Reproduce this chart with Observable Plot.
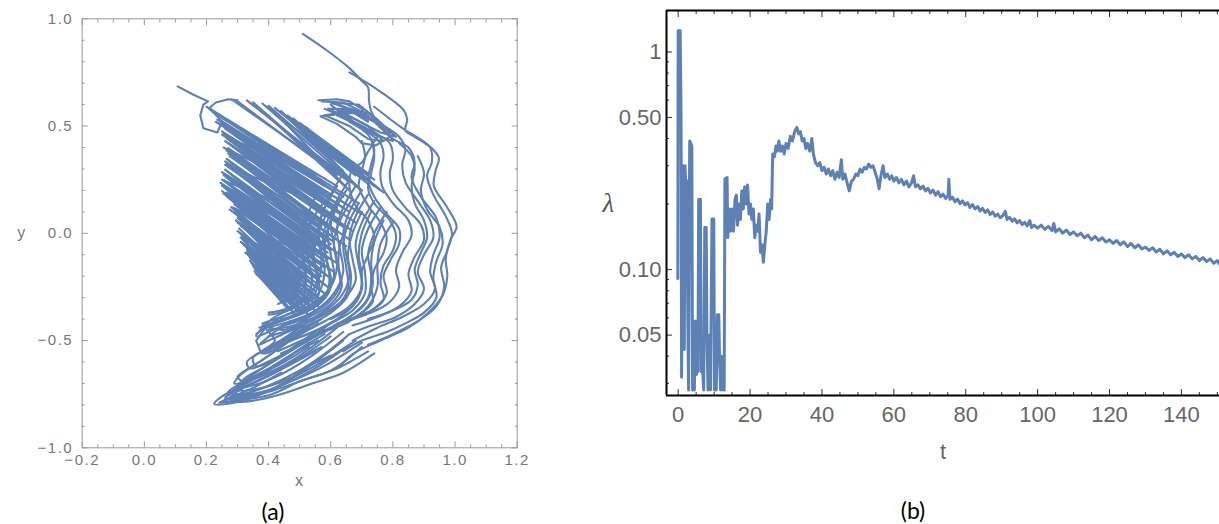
<!DOCTYPE html>
<html><head><meta charset="utf-8">
<script src="https://cdn.jsdelivr.net/npm/d3@7"></script>
<script src="https://cdn.jsdelivr.net/npm/@observablehq/plot@0.6"></script>
<style>
body{margin:0;background:#fff;width:1219px;height:524px;overflow:hidden;position:relative}
#a{position:absolute;left:0;top:0}
#b{position:absolute;left:580px;top:0}
#a text{letter-spacing:1.5px}
.cap{position:absolute;font-family:Lato,"Open Sans",sans-serif;font-size:23px;color:#000;transform:translateX(-50%);line-height:1}
</style></head><body>
<div id="a"></div><div id="b"></div>
<div class="cap" style="left:273px;top:500px">(a)</div>
<div class="cap" style="left:913px;top:499px">(b)</div>
<script>
// ---------- panel (a): phase portrait (x, y) ----------
const tailLoop = [[0.107,0.685],[0.16,0.645],[0.205,0.615],[0.19,0.60],[0.18,0.55],[0.19,0.49],[0.235,0.47],[0.25,0.52],[0.21,0.585],[0.23,0.61],[0.27,0.625],[0.3,0.62]];
const crownZigzag = [[0.56,0.62],[0.62,0.625],[0.66,0.615],[0.70,0.58],[0.72,0.52],[0.67,0.565],[0.567,0.545],[0.62,0.51],[0.68,0.45],[0.70,0.42],[0.745,0.41],[0.79,0.45],[0.74,0.52],[0.64,0.59],[0.60,0.61],[0.69,0.60],[0.75,0.53],[0.81,0.45],[0.76,0.47],[0.68,0.53],[0.59,0.58],[0.66,0.58],[0.72,0.56],[0.78,0.49],[0.8,0.43],[0.74,0.46],[0.65,0.54],[0.6,0.6]];
const crownZigzag2 = [[0.57,0.615],[0.64,0.61],[0.71,0.56],[0.62,0.56],[0.58,0.55],[0.66,0.5],[0.72,0.44],[0.77,0.43],[0.72,0.5],[0.63,0.57],[0.7,0.57],[0.76,0.5],[0.79,0.47]];
const fanZigzag = [[0.20,0.59],[0.62,0.22],[0.22,0.565],[0.69,0.14],[0.245,0.545],[0.64,0.17],[0.23,0.52],[0.70,0.09],[0.255,0.50],[0.66,0.10],[0.25,0.475],[0.68,0.05],[0.27,0.455],[0.63,0.09],[0.26,0.43],[0.67,0.01],[0.28,0.41],[0.64,0.03],[0.265,0.385],[0.66,-0.03],[0.275,0.36],[0.62,0.0],[0.26,0.335],[0.65,-0.06],[0.27,0.31],[0.61,-0.04],[0.25,0.285],[0.63,-0.10],[0.265,0.26],[0.60,-0.08],[0.245,0.235],[0.62,-0.14],[0.26,0.21],[0.59,-0.12],[0.255,0.185],[0.61,-0.18],[0.28,0.16],[0.58,-0.16],[0.29,0.135],[0.60,-0.21],[0.275,0.11],[0.57,-0.20],[0.30,0.085],[0.59,-0.25],[0.295,0.06],[0.56,-0.24],[0.31,0.035],[0.58,-0.28],[0.30,0.01],[0.55,-0.27],[0.315,-0.015],[0.57,-0.31],[0.31,-0.04],[0.54,-0.30],[0.33,-0.065],[0.56,-0.34],[0.325,-0.09],[0.53,-0.33],[0.34,-0.115],[0.55,-0.36],[0.345,-0.14],[0.52,-0.35],[0.355,-0.165],[0.53,-0.38],[0.36,-0.19],[0.50,-0.37]];
const fanZigzag2 = [[0.21,0.578],[0.55,0.27],[0.235,0.555],[0.58,0.22],[0.24,0.532],[0.60,0.17],[0.25,0.51],[0.57,0.19],[0.26,0.488],[0.62,0.12],[0.255,0.465],[0.59,0.13],[0.265,0.442],[0.63,0.06],[0.27,0.42],[0.58,0.08],[0.27,0.397],[0.62,0.0],[0.27,0.372],[0.57,0.03],[0.265,0.347],[0.60,-0.05],[0.265,0.322],[0.56,-0.02],[0.26,0.297],[0.59,-0.09],[0.255,0.272],[0.55,-0.06],[0.255,0.247],[0.58,-0.13],[0.25,0.222],[0.54,-0.10],[0.25,0.197],[0.57,-0.17],[0.265,0.172],[0.53,-0.14],[0.285,0.148],[0.56,-0.21],[0.28,0.122],[0.52,-0.18],[0.29,0.097],[0.55,-0.25],[0.30,0.072],[0.51,-0.22],[0.305,0.047],[0.54,-0.29],[0.305,0.022],[0.50,-0.25],[0.31,-0.003],[0.53,-0.32],[0.315,-0.028],[0.49,-0.28],[0.32,-0.053],[0.52,-0.35],[0.33,-0.078],[0.48,-0.31],[0.335,-0.103],[0.50,-0.36],[0.34,-0.128],[0.47,-0.33],[0.35,-0.153],[0.48,-0.37],[0.355,-0.178],[0.46,-0.35]];
const fanTop = [[0.28,0.625],[0.66,0.24],[0.33,0.62],[0.70,0.20],[0.38,0.605],[0.68,0.27],[0.42,0.585],[0.72,0.23],[0.46,0.55],[0.70,0.30],[0.50,0.515],[0.74,0.22],[0.54,0.47],[0.72,0.28],[0.58,0.42],[0.75,0.21],[0.62,0.37],[0.76,0.20]];
const fanTop2 = [[0.30,0.615],[0.62,0.27],[0.35,0.61],[0.66,0.20],[0.40,0.595],[0.64,0.29],[0.44,0.57],[0.69,0.21],[0.48,0.535],[0.67,0.29],[0.52,0.495],[0.71,0.25],[0.56,0.445],[0.73,0.24],[0.60,0.395],[0.74,0.25],[0.64,0.345],[0.77,0.19]];
const fanShort = [[0.235,0.53],[0.45,0.33],[0.25,0.46],[0.46,0.26],[0.255,0.40],[0.47,0.19],[0.26,0.32],[0.47,0.12],[0.25,0.25],[0.46,0.05],[0.265,0.19],[0.47,-0.01],[0.285,0.12],[0.48,-0.07],[0.30,0.05],[0.48,-0.12],[0.31,-0.02],[0.49,-0.18],[0.33,-0.09],[0.49,-0.23],[0.35,-0.15],[0.48,-0.27]];
const stubs = [[[0.406,-0.204],[0.44,-0.24],[0.47,-0.17]],[[0.39,-0.44],[0.36,-0.5],[0.375,-0.555]]];
const rightBundle = [
  [[0.66,0.75],[0.75,0.67],[0.835,0.573],[0.846,0.53],[0.84,0.48],[0.87,0.45],[0.93,0.39],[0.948,0.35],[0.937,0.29],[0.932,0.22],[0.975,0.12],[1.005,0.03],[0.985,-0.03],[0.97,-0.12],[0.975,-0.2],[0.96,-0.29],[0.91,-0.375],[0.85,-0.44],[0.76,-0.50],[0.674,-0.56],[0.63,-0.62]],
  [[0.74,0.59],[0.83,0.49],[0.92,0.40],[0.925,0.33],[0.91,0.27],[0.93,0.18],[0.97,0.08],[0.99,0.0],[0.975,-0.08],[0.955,-0.16],[0.965,-0.25],[0.94,-0.34],[0.88,-0.41],[0.8,-0.47],[0.72,-0.52]],
  [[0.51,0.93],[0.59,0.85],[0.66,0.77],[0.70,0.71],[0.72,0.68],[0.723,0.62],[0.73,0.57],[0.76,0.50],[0.80,0.44],[0.85,0.40],[0.87,0.33],[0.86,0.26],[0.89,0.17],[0.94,0.07],[0.95,-0.02],[0.93,-0.1],[0.92,-0.18],[0.935,-0.26],[0.9,-0.33],[0.83,-0.39],[0.75,-0.44],[0.67,-0.5]],
  [[0.6,0.61],[0.68,0.57],[0.76,0.51],[0.82,0.45],[0.84,0.39],[0.83,0.32],[0.84,0.24],[0.88,0.15],[0.92,0.06],[0.93,-0.02],[0.9,-0.1],[0.88,-0.18],[0.9,-0.26],[0.87,-0.33],[0.81,-0.39],[0.73,-0.43],[0.66,-0.47]],
  [[0.58,0.58],[0.66,0.53],[0.74,0.47],[0.79,0.42],[0.8,0.35],[0.79,0.28],[0.8,0.2],[0.84,0.12],[0.89,0.04],[0.9,-0.03],[0.87,-0.11],[0.85,-0.19],[0.86,-0.27],[0.82,-0.34],[0.75,-0.39],[0.67,-0.43]],
  [[0.62,0.55],[0.7,0.49],[0.76,0.42],[0.77,0.36],[0.76,0.29],[0.765,0.22],[0.8,0.14],[0.85,0.06],[0.86,-0.01],[0.83,-0.09],[0.81,-0.17],[0.82,-0.25],[0.79,-0.32],[0.73,-0.37],[0.65,-0.41]],
  [[0.66,0.52],[0.72,0.46],[0.74,0.39],[0.73,0.32],[0.72,0.25],[0.74,0.17],[0.78,0.09],[0.82,0.02],[0.82,-0.05],[0.79,-0.13],[0.77,-0.2],[0.78,-0.28],[0.74,-0.35],[0.68,-0.39],[0.61,-0.43]],
  [[0.7,0.43],[0.71,0.36],[0.7,0.29],[0.69,0.22],[0.72,0.13],[0.76,0.05],[0.78,-0.02],[0.77,-0.09],[0.74,-0.17],[0.73,-0.25],[0.735,-0.32],[0.69,-0.38],[0.62,-0.42]],
  [[0.73,0.44],[0.74,0.36],[0.73,0.28],[0.72,0.21],[0.74,0.14],[0.79,0.06],[0.81,-0.01],[0.8,-0.08],[0.77,-0.15],[0.76,-0.23],[0.77,-0.31],[0.72,-0.37],[0.64,-0.41]],
  [[0.75,0.45],[0.72,0.38],[0.7,0.33],[0.67,0.3],[0.66,0.22],[0.68,0.13],[0.72,0.06],[0.74,-0.02],[0.72,-0.1],[0.7,-0.18],[0.7,-0.26],[0.67,-0.34],[0.6,-0.4]],
  [[0.88,0.36],[0.9,0.28],[0.89,0.2],[0.91,0.11],[0.95,0.03],[0.96,-0.05],[0.94,-0.13],[0.93,-0.21],[0.94,-0.3],[0.9,-0.37],[0.84,-0.42],[0.78,-0.46],[0.7,-0.5],[0.64,-0.55]],
  [[0.82,0.42],[0.86,0.36],[0.87,0.3],[0.86,0.22],[0.87,0.14],[0.9,0.06],[0.91,-0.02],[0.89,-0.09],[0.87,-0.17],[0.88,-0.24],[0.86,-0.31],[0.8,-0.36],[0.72,-0.4]]
];
const middleColumn = [
  [[0.7,0.2],[0.66,0.1],[0.64,0.0],[0.65,-0.1],[0.66,-0.2],[0.63,-0.3],[0.56,-0.38],[0.48,-0.43],[0.4,-0.45]],
  [[0.66,0.25],[0.62,0.15],[0.6,0.05],[0.61,-0.05],[0.62,-0.15],[0.6,-0.25],[0.54,-0.33],[0.46,-0.38],[0.38,-0.42]],
  [[0.62,0.22],[0.58,0.12],[0.56,0.02],[0.57,-0.08],[0.58,-0.18],[0.56,-0.28],[0.5,-0.35],[0.43,-0.4],[0.36,-0.47]],
  [[0.74,0.15],[0.7,0.05],[0.68,-0.05],[0.69,-0.15],[0.7,-0.25],[0.66,-0.34],[0.58,-0.41],[0.5,-0.47],[0.42,-0.52]],
  [[0.78,0.1],[0.74,0.0],[0.72,-0.1],[0.73,-0.2],[0.72,-0.3],[0.67,-0.38],[0.6,-0.44],[0.52,-0.5]],
  [[0.58,0.15],[0.54,0.06],[0.52,-0.04],[0.53,-0.14],[0.54,-0.22],[0.52,-0.3],[0.46,-0.36],[0.4,-0.38]],
  [[0.52,0.1],[0.5,0.0],[0.49,-0.1],[0.5,-0.2],[0.48,-0.28],[0.43,-0.33]],
  [[0.68,0.22],[0.64,0.12],[0.62,0.02],[0.63,-0.08],[0.64,-0.18],[0.61,-0.28],[0.55,-0.36],[0.47,-0.41],[0.39,-0.44]],
  [[0.72,0.18],[0.68,0.08],[0.66,-0.02],[0.67,-0.12],[0.68,-0.22],[0.64,-0.31],[0.57,-0.38],[0.49,-0.44]],
  [[0.6,0.05],[0.58,-0.05],[0.59,-0.15],[0.6,-0.25],[0.57,-0.32],[0.5,-0.38],[0.44,-0.4]],
  [[0.64,0.28],[0.6,0.18],[0.57,0.08],[0.56,-0.02],[0.57,-0.12],[0.56,-0.22],[0.52,-0.3],[0.46,-0.35]],
  [[0.56,0.2],[0.53,0.1],[0.51,0.0],[0.51,-0.1],[0.52,-0.2],[0.5,-0.28],[0.45,-0.32]],
  [[0.76,0.12],[0.72,0.02],[0.7,-0.08],[0.71,-0.18],[0.71,-0.28],[0.67,-0.36],[0.6,-0.42],[0.53,-0.47],[0.46,-0.5]],
  [[0.7,0.1],[0.67,0.0],[0.655,-0.1],[0.665,-0.2],[0.655,-0.29],[0.61,-0.36],[0.54,-0.42],[0.46,-0.46]],
  [[0.66,0.05],[0.63,-0.05],[0.625,-0.15],[0.635,-0.25],[0.6,-0.33],[0.53,-0.39],[0.45,-0.43]],
  [[0.62,0.12],[0.59,0.02],[0.58,-0.08],[0.595,-0.18],[0.59,-0.27],[0.55,-0.34],[0.48,-0.38]],
  [[0.55,0.0],[0.54,-0.1],[0.555,-0.2],[0.55,-0.28],[0.5,-0.33],[0.44,-0.36]],
  [[0.8,0.05],[0.76,-0.05],[0.75,-0.15],[0.75,-0.25],[0.72,-0.34],[0.66,-0.41],[0.58,-0.46],[0.5,-0.52],[0.44,-0.56]],
  [[0.65,0.2],[0.61,0.1],[0.59,0.0],[0.6,-0.1],[0.61,-0.2],[0.58,-0.29],[0.52,-0.36],[0.44,-0.41],[0.37,-0.44]],
  [[0.69,0.14],[0.655,0.04],[0.64,-0.06],[0.65,-0.16],[0.655,-0.26],[0.62,-0.34],[0.55,-0.4],[0.47,-0.45],[0.4,-0.48]],
  [[0.73,0.1],[0.7,0.0],[0.69,-0.1],[0.7,-0.2],[0.69,-0.3],[0.64,-0.38],[0.57,-0.44],[0.49,-0.49],[0.42,-0.53]],
  [[0.59,0.1],[0.56,0.0],[0.545,-0.1],[0.56,-0.2],[0.56,-0.29],[0.52,-0.35],[0.45,-0.4],[0.38,-0.43]],
  [[0.54,0.08],[0.52,-0.02],[0.51,-0.12],[0.52,-0.22],[0.51,-0.3],[0.46,-0.35],[0.4,-0.37]],
  [[0.77,0.06],[0.74,-0.04],[0.73,-0.14],[0.735,-0.24],[0.71,-0.33],[0.65,-0.4],[0.57,-0.46],[0.49,-0.51],[0.43,-0.55]],
  [[0.67,0.16],[0.63,0.06],[0.61,-0.04],[0.62,-0.14],[0.63,-0.24],[0.595,-0.32],[0.53,-0.38],[0.46,-0.42]],
  [[0.63,0.18],[0.595,0.08],[0.575,-0.02],[0.585,-0.12],[0.6,-0.22],[0.575,-0.3],[0.51,-0.37],[0.44,-0.41]]
];
const lowerLoops = [
  [[0.66,-0.47],[0.55,-0.6],[0.45,-0.7],[0.36,-0.76],[0.27,-0.795],[0.225,-0.795],[0.25,-0.76],[0.33,-0.7],[0.42,-0.62],[0.5,-0.54],[0.58,-0.47]],
  [[0.64,-0.5],[0.53,-0.62],[0.42,-0.72],[0.32,-0.77],[0.26,-0.78],[0.28,-0.74],[0.36,-0.67],[0.45,-0.59],[0.53,-0.51]],
  [[0.62,-0.52],[0.5,-0.64],[0.40,-0.71],[0.31,-0.75],[0.27,-0.74],[0.31,-0.7],[0.4,-0.63],[0.48,-0.56],[0.56,-0.5]],
  [[0.68,-0.5],[0.57,-0.6],[0.48,-0.67],[0.38,-0.72],[0.3,-0.73],[0.33,-0.68],[0.41,-0.6],[0.49,-0.52],[0.55,-0.46]],
  [[0.6,-0.48],[0.5,-0.58],[0.4,-0.65],[0.32,-0.69],[0.3,-0.67],[0.37,-0.6],[0.44,-0.53],[0.5,-0.46]],
  [[0.7,-0.53],[0.6,-0.64],[0.5,-0.69],[0.41,-0.75],[0.3,-0.78],[0.24,-0.79],[0.27,-0.77],[0.35,-0.72],[0.44,-0.65]],
  [[0.56,-0.42],[0.47,-0.5],[0.39,-0.56],[0.375,-0.555],[0.42,-0.5],[0.39,-0.44],[0.45,-0.45],[0.52,-0.4]],
  [[0.48,-0.35],[0.41,-0.4],[0.36,-0.48],[0.4,-0.46],[0.46,-0.42]],
  [[0.62,-0.44],[0.52,-0.55],[0.43,-0.63],[0.35,-0.68],[0.29,-0.7],[0.31,-0.66],[0.38,-0.59],[0.46,-0.51],[0.53,-0.44]],
  [[0.72,-0.55],[0.62,-0.63],[0.52,-0.68],[0.42,-0.73],[0.33,-0.76],[0.28,-0.76],[0.32,-0.72],[0.4,-0.66],[0.48,-0.6],[0.57,-0.53]],
  [[0.58,-0.45],[0.49,-0.53],[0.41,-0.59],[0.34,-0.63],[0.33,-0.6],[0.39,-0.54],[0.46,-0.48],[0.52,-0.42]],
  [[0.66,-0.52],[0.56,-0.62],[0.47,-0.69],[0.39,-0.74],[0.31,-0.77],[0.26,-0.765],[0.3,-0.73],[0.38,-0.68],[0.46,-0.62],[0.55,-0.55]],
  [[0.54,-0.38],[0.46,-0.46],[0.4,-0.5],[0.37,-0.52],[0.41,-0.47],[0.47,-0.41]],
  [[0.64,-0.46],[0.54,-0.57],[0.45,-0.65],[0.37,-0.7],[0.3,-0.72],[0.32,-0.68],[0.39,-0.62],[0.47,-0.55],[0.55,-0.48]],
  [[0.7,-0.51],[0.59,-0.61],[0.49,-0.68],[0.4,-0.73],[0.32,-0.755],[0.27,-0.755],[0.3,-0.72],[0.37,-0.66],[0.45,-0.6],[0.53,-0.53]],
  [[0.6,-0.42],[0.51,-0.51],[0.43,-0.58],[0.36,-0.62],[0.35,-0.58],[0.41,-0.53],[0.48,-0.47],[0.55,-0.41]],
  [[0.74,-0.56],[0.64,-0.65],[0.54,-0.7],[0.44,-0.75],[0.35,-0.78],[0.29,-0.785],[0.33,-0.75],[0.42,-0.7],[0.5,-0.64],[0.6,-0.57]],
  [[0.57,-0.4],[0.49,-0.47],[0.42,-0.53],[0.38,-0.56],[0.42,-0.52],[0.49,-0.45]]
];
const xTicksA = [-0.2,0,0.2,0.4,0.6,0.8,1.0,1.2];
const yTicksA = [-1,-0.5,0,0.5,1];

// ---------- panel (b): lambda(t) ----------
const lamT = [-0.1,0.0,0.55,0.65,0.8,0.95,1.15,1.3,1.5,1.7,1.9,2.05,2.4,2.6,2.75,2.9,3.2,3.8,4.0,4.2,4.5,4.8,5.1,5.3,5.5,5.7,6.2,6.4,6.8,7.1,7.4,7.8,8.0,8.3,8.7,9.0,9.4,9.9,10.1,10.6,10.9,11.3,11.5,11.8,12.1,12.5,12.8,13.0,13.6,13.8,14.2,14.6,15.0,15.4,15.8,16.2,16.5,16.9,17.3,17.7,18.1,18.5,18.9,19.3,19.7,20.1,20.5,20.9,21.3,21.7,22.1,22.5,22.9,23.3,23.7,24.1,24.5,24.9,25.3,25.7,26.0,
  26.3,26.8,27.2,27.6,28.0,28.5,29.0,29.5,30.0,30.6,31.2,31.8,32.4,33.0,33.5,34.0,34.5,35.0,35.5,36.0,36.6,37.2,37.6,38.2,38.8,39.4,40.0,40.6,41.2,41.8,42.4,43.0,43.6,44.2,44.8,45.4,45.8,46.4,47.0,47.6,48.2,48.8,49.4,50.0,50.6,51.2,51.8,52.4,53.0,53.6,54.2,54.8,55.4,55.9,56.4,57.0,57.5,58.2,58.8,59.4,60.0,60.7,61.4,62.1,62.8,63.5,64.2,64.9,65.5,66.0,66.7,67.4,68.1,68.8,69.5,70.2,70.9,71.6,72.3,73.0,73.7,74.4,75.1,75.3,75.6,76.3,77.0,77.7,78.4,79.1,79.8,80.5,81.2,81.9,82.6,83.3,84.0,84.7,85.4,86.1,86.8,87.5,88.2,88.9,89.6,90.3,91.0,91.5,92.2,92.9,93.6,94.3,95.0,95.7,96.4,97.1,97.8,98.3,99,
  100,101,102,103,104,104.5,105,106,107,108,109,110,111,112,113,114,115,116,117,118,119,120,121,122,123,124,125,126,127,128,129,130,131,132,133,134,135,136,137,138,139,140,141,142,143,144,145,146,147,148,149,150,150.6];
const lamV = [0.091,1.25,1.25,0.88,0.5,0.032,0.30,0.05,0.30,0.043,0.30,0.26,0.255,0.09,0.045,0.028,0.39,0.37,0.028,0.058,0.028,0.058,0.033,0.058,0.034,0.21,0.21,0.034,0.035,0.028,0.156,0.156,0.05,0.028,0.05,0.028,0.171,0.171,0.028,0.028,0.062,0.062,0.04,0.028,0.04,0.028,0.028,0.26,0.265,0.14,0.19,0.15,0.19,0.15,0.21,0.22,0.16,0.2,0.17,0.23,0.19,0.24,0.2,0.245,0.18,0.2,0.17,0.19,0.14,0.16,0.15,0.18,0.12,0.13,0.108,0.13,0.15,0.2,0.17,0.21,0.19,
  0.34,0.33,0.37,0.35,0.39,0.35,0.37,0.34,0.38,0.36,0.41,0.39,0.43,0.45,0.42,0.43,0.39,0.40,0.36,0.38,0.35,0.40,0.34,0.31,0.30,0.31,0.285,0.295,0.275,0.29,0.27,0.285,0.26,0.28,0.265,0.32,0.26,0.275,0.25,0.23,0.255,0.26,0.275,0.27,0.29,0.28,0.295,0.29,0.305,0.295,0.30,0.28,0.26,0.235,0.27,0.30,0.265,0.275,0.26,0.27,0.255,0.265,0.25,0.26,0.245,0.255,0.24,0.25,0.27,0.24,0.245,0.235,0.242,0.23,0.236,0.225,0.232,0.22,0.228,0.216,0.222,0.212,0.22,0.26,0.21,0.215,0.205,0.211,0.201,0.207,0.198,0.203,0.193,0.199,0.19,0.195,0.186,0.191,0.183,0.188,0.179,0.184,0.176,0.18,0.173,0.177,0.185,0.17,0.174,0.167,0.171,0.164,0.168,0.161,0.165,0.159,0.168,0.156,0.16,
  0.155,0.160,0.153,0.158,0.151,0.163,0.149,0.154,0.147,0.152,0.145,0.149,0.143,0.147,0.140,0.144,0.137,0.142,0.136,0.140,0.134,0.137,0.132,0.136,0.130,0.134,0.1275,0.132,0.126,0.130,0.1245,0.127,0.1225,0.126,0.1205,0.124,0.118,0.122,0.117,0.120,0.115,0.118,0.1135,0.117,0.112,0.115,0.110,0.1135,0.109,0.112,0.107,0.110,0.106];
const tTicks = [0,20,40,60,80,100,120,140];
const lamTicks = [0.05,0.1,0.5,1];
const lamTickLabels = ["0.05","0.10","0.50","1"];
const lamMinor = [0.03,0.04,0.06,0.07,0.08,0.09,0.2,0.3,0.4,0.6,0.7,0.8,0.9];

// ---------- build ----------
const blue = "#5e81b5";
let seg = 0;
function rows(groups) {
  const out = [];
  for (const g of groups) for (const c of g) { seg++; for (const [x, y] of c) out.push({x, y, seg}); }
  return out;
}
const smoothRows = rows([rightBundle, middleColumn, lowerLoops]);
const sharpRows = rows([[tailLoop], [crownZigzag, crownZigzag2], [fanZigzag, fanZigzag2, fanTop, fanTop2, fanShort], stubs]);

const fmt1 = d3.format(".1f");
const xMinorA = d3.range(-0.2, 1.2001, 0.05).filter(v => Math.abs(v / 0.2 - Math.round(v / 0.2)) > 1e-6);
const yMinorA = d3.range(-1, 1.0001, 0.1).filter(v => Math.abs(v / 0.5 - Math.round(v / 0.5)) > 1e-6);
const gA = {stroke: "#999", fill: "#777"};

const plotA = Plot.plot({
  width: 560, height: 500,
  marginLeft: 81.7, marginRight: 43.3, marginTop: 18.3, marginBottom: 52.7,
  x: {domain: [-0.2, 1.2]},
  y: {domain: [-1, 1]},
  style: {fontFamily: "'Liberation Sans', Arial, sans-serif", fontSize: "15px", background: "transparent"},
  marks: [
    Plot.line(smoothRows, {x: "x", y: "y", z: "seg", stroke: blue, strokeWidth: 2.1, curve: "catmull-rom"}),
    Plot.line(sharpRows, {x: "x", y: "y", z: "seg", stroke: blue, strokeWidth: 2.1, strokeLinejoin: "round"}),
    Plot.frame({stroke: "#9a9a9a"}),
    Plot.axisX(xTicksA, {anchor: "bottom", tickSize: -6, tickPadding: 13, tickFormat: fmt1, label: null, ...gA}),
    Plot.axisX(xTicksA, {anchor: "top", tickSize: -6, tickFormat: () => "", label: null, ...gA}),
    Plot.axisX(xMinorA, {anchor: "bottom", tickSize: -3, tickFormat: () => "", label: null, ...gA}),
    Plot.axisX(xMinorA, {anchor: "top", tickSize: -3, tickFormat: () => "", label: null, ...gA}),
    Plot.axisY(yTicksA, {anchor: "left", tickSize: -6, tickPadding: 15, tickFormat: fmt1, label: null, ...gA}),
    Plot.axisY(yTicksA, {anchor: "right", tickSize: -6, tickFormat: () => "", label: null, ...gA}),
    Plot.axisY(yMinorA, {anchor: "left", tickSize: -3, tickFormat: () => "", label: null, ...gA}),
    Plot.axisY(yMinorA, {anchor: "right", tickSize: -3, tickFormat: () => "", label: null, ...gA}),
    Plot.text(["x"], {text: d => d, frameAnchor: "bottom", dy: 38, fill: "#777", fontSize: 16}),
    Plot.text(["y"], {text: d => d, frameAnchor: "left", dx: -65, fill: "#777", fontSize: 16})
  ]
});
document.getElementById("a").append(plotA);

const lamRows = lamT.map((t, i) => ({t, v: lamV[i]}));
const tMinor = d3.range(0, 151, 5).filter(v => v % 20 !== 0);
const gB = {stroke: "#333", fill: "#666"};
const tDom = [-3.25, 150.6], lDom = [0.0264, 1.55];
const lamLabel = d => lamTickLabels[lamTicks.indexOf(d)];
const plotB = Plot.plot({
  width: 639, height: 480,
  marginLeft: 86, marginRight: 0, marginTop: 10, marginBottom: 85,
  x: {domain: tDom},
  y: {type: "log", domain: lDom},
  style: {fontFamily: "'Liberation Sans', Arial, sans-serif", fontSize: "22px", background: "transparent"},
  marks: [
    Plot.line(lamRows, {x: "t", y: "v", stroke: blue, strokeWidth: 3, clip: true, strokeLinejoin: "round"}),
    Plot.axisX(tTicks, {anchor: "bottom", tickSize: -6, tickPadding: 17, label: null, ...gB}),
    Plot.axisX(tTicks, {anchor: "top", tickSize: -6, tickFormat: () => "", label: null, ...gB}),
    Plot.axisX(tMinor, {anchor: "bottom", tickSize: -3, tickFormat: () => "", label: null, ...gB}),
    Plot.axisX(tMinor, {anchor: "top", tickSize: -3, tickFormat: () => "", label: null, ...gB}),
    Plot.axisY(lamTicks, {anchor: "left", tickSize: -6, tickFormat: () => "", label: null, ...gB}),
    Plot.text(lamTicks, {x: () => tDom[0], y: d => d, text: lamLabel, textAnchor: "end", dx: -5, fill: "#666", fontSize: 22}),
    Plot.axisY(lamMinor, {anchor: "left", tickSize: -3, tickFormat: () => "", label: null, ...gB}),
    Plot.ruleX([tDom[0]], {stroke: "#000", strokeWidth: 2}),
    Plot.ruleY([lDom[0], lDom[1]], {stroke: "#000", strokeWidth: 2}),
    Plot.text(["t"], {text: d => d, frameAnchor: "bottom", dy: 63, fill: "#666", fontSize: 22}),
    Plot.text(["λ"], {text: d => d, frameAnchor: "left", dx: -64, fill: "#555", fontSize: 27, fontStyle: "italic", fontFamily: "'Liberation Serif', serif"})
  ]
});
document.getElementById("b").append(plotB);
</script>
</body></html>
